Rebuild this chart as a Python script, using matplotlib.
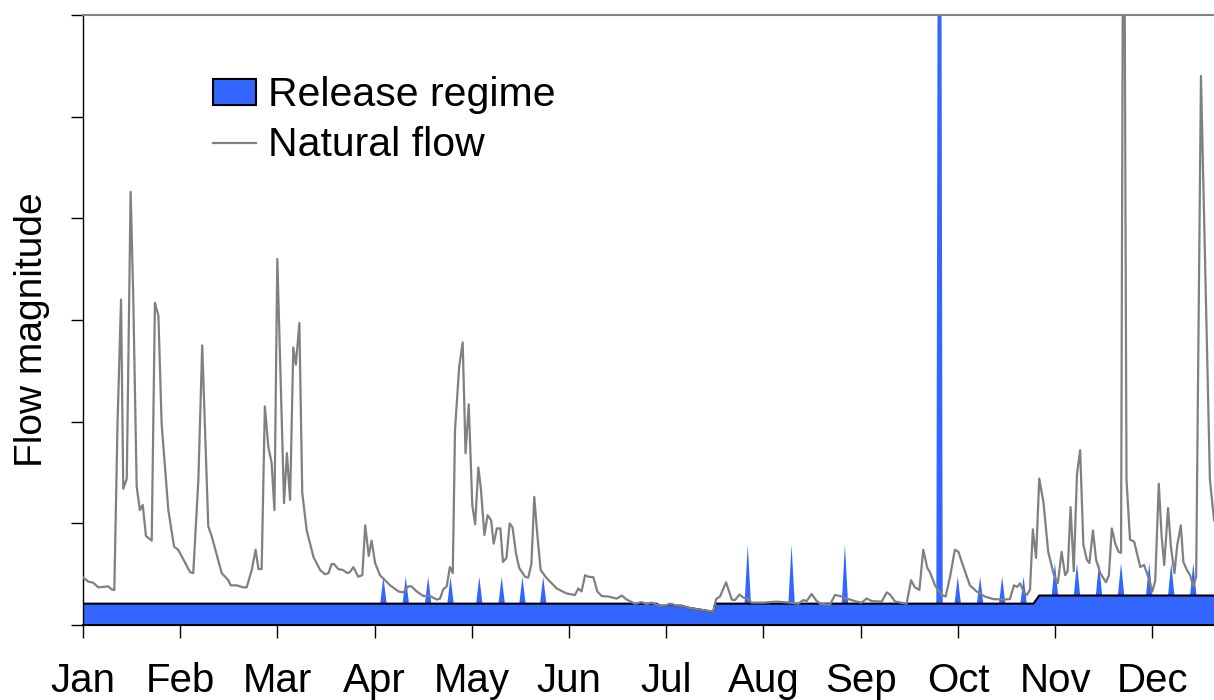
import numpy as np
import matplotlib
matplotlib.use("Agg")
import matplotlib.pyplot as plt
from matplotlib.patches import Patch
from matplotlib.lines import Line2D

plt.rcParams['font.family'] = ['Liberation Sans', 'DejaVu Sans']

# natural flow (day of year, relative magnitude)
nat_days = [0.1, 1.7, 3.2, 4.8, 6.9, 7.9, 9.0, 9.8, 10.8, 11.9, 12.6, 13.7, 14.9, 15.7, 16.8,
            17.8, 18.7, 19.7, 21.5, 22.5, 23.6, 24.6, 26.7, 28.5, 29.8, 33.5, 34.5, 36.1,
            37.3, 39.2, 40.3, 43.4, 45.5, 46.2, 48.1, 50.2, 51.2, 52.8, 54.0, 54.9, 55.9,
            56.9, 58.0, 59.0, 59.9, 60.8, 62.9, 63.8, 64.8, 65.8, 66.6, 67.7, 68.6, 70.0,
            72.1, 74.2, 75.7, 76.8, 77.8, 78.5, 79.9, 81.4, 82.7, 83.5, 84.6, 86.1, 87.4,
            88.3, 89.4, 90.3, 91.4, 92.9, 96.1, 98.7, 100.2, 101.8, 102.8, 104.4, 106.5,
            108.6, 110.7, 111.7, 112.7, 113.8, 114.8, 115.7, 116.4, 117.7, 118.8, 119.7,
            120.7, 121.8, 122.7, 123.7, 124.5, 125.6, 126.6, 127.7, 128.5, 129.5, 130.6,
            131.4, 132.5, 133.5, 134.4, 135.5, 136.5, 138.3, 139.3, 140.3, 141.2, 142.2,
            143.2, 145.1, 148.2, 151.3, 153.9, 155.0, 156.0, 157.1, 158.1, 159.7, 160.9,
            162.3, 164.4, 167.0, 168.6, 170.1, 172.7, 174.8, 176.4, 177.9, 180.5, 182.1,
            183.7, 185.8, 187.3, 189.4, 197.2, 198.1, 199.3, 201.2, 203.0, 204.0, 205.4,
            206.6, 207.9, 209.2, 212.9, 217.0, 221.2, 223.8, 225.4, 226.4, 228.0, 229.3,
            230.6, 233.7, 235.3, 236.9, 238.9, 242.1, 243.6, 245.2, 246.8, 249.9, 251.5,
            252.5, 254.1, 257.7, 259.1, 260.3, 261.7, 262.9, 264.2, 265.0, 266.6, 268.7,
            269.9, 271.3, 272.8, 273.9, 275.5, 277.5, 279.6, 282.2, 284.8, 288.0, 290.0,
            291.3, 292.3, 293.2, 294.4, 295.3, 296.3, 297.2, 298.2, 299.2, 300.5, 302.0,
            303.8, 305.0, 306.2, 307.3, 308.1, 309.0, 310.0, 311.0, 312.0, 313.0, 314.1,
            314.9, 316.0, 317.0, 318.3, 320.1, 321.0, 321.9, 323.0, 324.0, 324.8, 325.6,
            326.5, 327.6, 328.9, 330.8, 332.0, 333.3, 334.6, 335.5, 336.6, 337.5, 338.3,
            339.5, 340.4, 341.5, 342.4, 343.5, 344.3, 345.4, 346.4, 347.4, 348.3, 349.8,
            352.6, 353.9]
nat_flow = [0.465, 0.426, 0.416, 0.37, 0.377, 0.38, 0.35, 0.344, 1.98, 3.2, 1.34, 1.44, 4.26, 3.26, 1.36,
            1.13, 1.18, 0.875, 0.83, 3.17, 3.04, 1.98, 1.13, 0.77, 0.74, 0.52, 0.51, 1.43,
            2.75, 0.97, 0.87, 0.51, 0.44, 0.39, 0.39, 0.37, 0.37, 0.54, 0.74, 0.55, 0.55,
            2.15, 1.75, 1.6, 1.13, 3.6, 1.2, 1.69, 1.23, 2.73, 2.56, 2.97, 1.3, 0.93,
            0.67, 0.54, 0.5, 0.51, 0.6, 0.6, 0.55, 0.54, 0.51, 0.52, 0.57, 0.475, 0.49,
            0.98, 0.68, 0.83, 0.61, 0.49, 0.39, 0.33, 0.32, 0.38, 0.38, 0.33, 0.285,
            0.285, 0.25, 0.26, 0.35, 0.38, 0.57, 0.51, 1.92, 2.54, 2.78, 1.69,
            2.17, 1.18, 0.99, 1.55, 1.34, 0.885, 1.08, 1.03, 0.8, 0.95, 0.95,
            0.62, 0.66, 1.0, 0.96, 0.7, 0.56, 0.475, 0.465, 0.6, 1.26, 0.87,
            0.54, 0.46, 0.36, 0.31, 0.295, 0.36, 0.33, 0.49, 0.475, 0.47, 0.33,
            0.285, 0.28, 0.26, 0.29, 0.25, 0.21, 0.225, 0.206, 0.22, 0.19, 0.19,
            0.21, 0.19, 0.19, 0.17, 0.13, 0.255, 0.28, 0.42, 0.25, 0.245, 0.30,
            0.27, 0.26, 0.22, 0.22, 0.23, 0.22, 0.21, 0.245, 0.235, 0.305, 0.245,
            0.21, 0.2, 0.295, 0.285, 0.26, 0.23, 0.22, 0.26, 0.235, 0.23, 0.32,
            0.30, 0.23, 0.21, 0.44, 0.37, 0.345, 0.74, 0.56, 0.52, 0.39, 0.295,
            0.28, 0.475, 0.74, 0.72, 0.57, 0.39, 0.33, 0.28, 0.255, 0.25, 0.255,
            0.39, 0.375, 0.41, 0.32, 0.295, 0.345, 0.94, 0.66, 1.44, 1.21, 0.72,
            0.49, 0.41, 0.72, 0.49, 0.53, 1.16, 0.53, 1.48, 1.72, 0.79, 0.64,
            0.61, 0.93, 0.64, 0.51, 0.42, 0.49, 0.95, 0.8, 0.72, 0.71, 9.0,
            1.43, 0.84, 0.82, 0.57, 0.59, 0.475, 0.33, 0.44, 1.39, 0.87, 0.59,
            1.15, 0.77, 0.51, 0.79, 0.98, 0.62, 0.54, 0.49, 0.38, 0.475, 5.40,
            1.43, 1.03]

# release regime: base flow (follows natural flow where that is lower)
base_days = [0, 179.5, 180.5, 182.1, 183.7, 185.8, 187.3, 189.4, 197.2, 197.8, 297.4, 299.2, 354]
base_flow = [0.21, 0.21, 0.19, 0.19, 0.205, 0.19, 0.19, 0.17, 0.13, 0.21, 0.21, 0.29, 0.29]

# release pulses (day, peak)
pulse_days = [94, 101, 108, 115, 124, 131, 137.5, 144, 208, 221.7, 238.4, 268,
              273.7, 280.7, 287.6, 294.3, 304.1, 311, 317.9, 324.8, 333.6, 340.5, 347.4]
pulse_peak = [0.475, 0.475, 0.475, 0.475, 0.475, 0.475, 0.475, 0.475, 0.79, 0.79, 0.79, 16.0,
              0.475, 0.475, 0.475, 0.475, 0.61, 0.61, 0.61, 0.61, 0.61, 0.61, 0.61]

months = ['Jan', 'Feb', 'Mar', 'Apr', 'May', 'Jun', 'Jul', 'Aug', 'Sep', 'Oct', 'Nov', 'Dec']

BLUE = '#3366ff'
GREY = '#808080'

# build release outline: base plus one-day triangular pulses
rx = list(base_days)
ry = list(base_flow)
for d, p in zip(pulse_days, pulse_peak):
    for xx in (d - 1, d + 1):
        rx.append(xx)
        ry.append(np.interp(xx, base_days, base_flow))
    rx.append(d)
    ry.append(p)
order = np.argsort(rx, kind='stable')
rx = np.array(rx)[order]
ry = np.array(ry)[order]

fig = plt.figure(figsize=(12.14, 7.0), dpi=100)
ax = fig.add_axes([83 / 1214, 1 - 625 / 700, 1 - 83 / 1214, 610 / 700])

ax.fill_between(rx, 0, ry, color=BLUE, lw=0, zorder=1)
ax.plot(base_days, base_flow, color='black', lw=1.5, zorder=2)
ax.plot(nat_days, nat_flow, color=GREY, lw=1.6, zorder=3)

ax.set_xlim(0, 1131 / 3.196)
ax.set_ylim(0, 6)
ax.set_xticks(np.arange(12) * 365 / 12)
ax.set_xticklabels(months)
ax.set_yticks(np.arange(7))
ax.set_yticklabels([])
ax.tick_params(axis='x', direction='out', length=9, width=1, labelsize=29, pad=18)
ax.tick_params(axis='y', direction='out', length=9, width=1)

ax.spines['right'].set_visible(False)
ax.spines['top'].set_color(GREY)
ax.spines['top'].set_linewidth(1.5)
ax.spines['left'].set_linewidth(1)
ax.spines['bottom'].set_linewidth(1.5)

fig.text(32 / 1214, 1 - 330 / 700, 'Flow magnitude', rotation=90,
         ha='center', va='center', fontsize=28)

handles = [Patch(facecolor=BLUE, edgecolor='black', lw=1.5),
           Line2D([], [], color=GREY, lw=1.6)]
ax.legend(handles, ['Release regime', 'Natural flow'], loc='upper left',
          bbox_to_anchor=(213 / 1214, 1 - 76 / 700), bbox_transform=fig.transFigure,
          frameon=False, fontsize=29.5, handlelength=1.05, handleheight=0.6,
          handletextpad=0.3, labelspacing=0.3, borderpad=0, borderaxespad=0)

fig.savefig('out.png', dpi=100)
